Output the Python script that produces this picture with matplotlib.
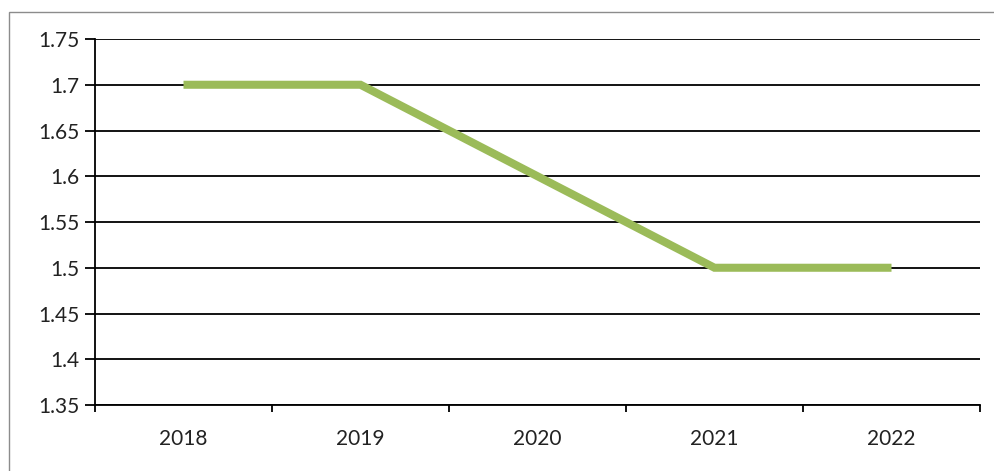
import matplotlib.pyplot as plt
from matplotlib.patches import Rectangle
import numpy as np

years = ['2018', '2019', '2020', '2021', '2022']
values = [1.7, 1.7, 1.6, 1.5, 1.5]
yticks = [1.35, 1.4, 1.45, 1.5, 1.55, 1.6, 1.65, 1.7, 1.75]

plt.rcParams['font.family'] = ['Lato', 'DejaVu Sans']

fig = plt.figure(figsize=(9.95, 4.71), dpi=100)
# outer chart frame
fig.patches.append(Rectangle((9 / 995, -0.1), 1.2, 1 - 12 / 471 + 0.1,
                             transform=fig.transFigure, fill=False,
                             edgecolor='#8c8c8c', linewidth=1.0))

ax = fig.add_axes([95 / 995, 1 - 405 / 471, (980 - 95) / 995, (405 - 39) / 471])
x = np.arange(len(years))
ax.plot(x, values, color='#9BBB59', linewidth=5.8, solid_capstyle='butt',
        solid_joinstyle='miter', zorder=3)

ax.set_xlim(-0.5, len(years) - 0.5)
ax.set_ylim(1.35, 1.75)
ax.set_yticks(yticks)
ax.set_yticklabels([f'{v:g}' for v in yticks])
ax.set_xticks(x)
ax.set_xticklabels(years)
ax.set_xticks(np.arange(len(years) + 1) - 0.5, minor=True)

ax.grid(axis='y', color='black', linewidth=1.3)
ax.set_axisbelow(True)
for s in ['top', 'right']:
    ax.spines[s].set_visible(False)
for s in ['left', 'bottom']:
    ax.spines[s].set_color('black')
    ax.spines[s].set_linewidth(1.3)

ax.tick_params(axis='y', direction='out', length=7.5, width=1.3, pad=3.5,
               labelsize=15, colors='black', labelcolor='#222222')
ax.tick_params(axis='x', which='major', length=0, pad=17, labelsize=15,
               labelcolor='#222222')
ax.tick_params(axis='x', which='minor', direction='out', length=5, width=1.3,
               color='black')

fig.savefig('out.png', dpi=100)
